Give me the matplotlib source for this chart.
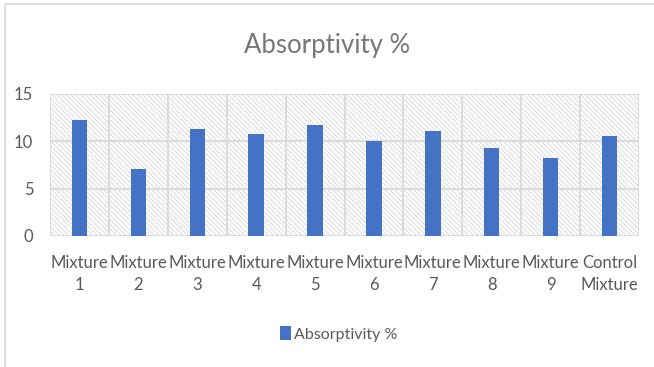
import matplotlib.pyplot as plt
from matplotlib.patches import Rectangle
import numpy as np

categories = ['Mixture\n1', 'Mixture\n2', 'Mixture\n3', 'Mixture\n4', 'Mixture\n5',
              'Mixture\n6', 'Mixture\n7', 'Mixture\n8', 'Mixture\n9', 'Control\nMixture']
absorptivity = [12.25, 7.05, 11.33, 10.77, 11.69, 10.07, 11.12, 9.33, 8.24, 10.56]
yticks = [0, 5, 10, 15]

plt.rcParams['font.family'] = ['Lato', 'DejaVu Sans']
plt.rcParams['hatch.linewidth'] = 0.6

fig = plt.figure(figsize=(6.54, 3.67), dpi=100, facecolor='white')
# outer chart frame
fig.patches.append(Rectangle((5 / 654, -0.1), 1.2, 1.1 - 4 / 367, transform=fig.transFigure,
                             facecolor='none', edgecolor='#d9d9d9', lw=1.2, zorder=0))

ax = fig.add_axes([50 / 654, 1 - 236 / 367, 589 / 654, 142 / 367])
ax.set_facecolor('none')

x = np.arange(len(categories))
ax.set_xlim(-0.5, len(categories) - 0.5)
ax.set_ylim(0, 15)

# hatched plot area
ax.add_patch(Rectangle((0, 0), 1, 1, transform=ax.transAxes, facecolor='white',
                       edgecolor='#d3d3d3', hatch='\\' * 7, lw=0, zorder=0))

for yv in yticks:
    ax.axhline(yv, color='#d9d9d9', lw=1.3, zorder=1)
for xv in np.arange(-0.5, len(categories), 1.0):
    ax.axvline(xv, color='#d9d9d9', lw=1.3, zorder=1)

ax.bar(x, absorptivity, width=0.26, color='#4472c4', zorder=3, label='Absorptivity %')

for s in ax.spines.values():
    s.set_visible(False)

ax.set_yticks(yticks)
ax.set_xticks(x)
ax.set_xticklabels(categories, linespacing=1.45)
ax.tick_params(axis='both', length=0, labelsize=12, labelcolor='#595959')
ax.tick_params(axis='y', pad=12)
ax.tick_params(axis='x', pad=14)

fig.text(0.5, 1 - 45 / 367, 'Absorptivity %', ha='center', va='center',
         fontsize=18.5, color='#777777')

fig.legend(loc='center', bbox_to_anchor=(0.518, 1 - 334 / 367), frameon=False,
           fontsize=11.5, labelcolor='#595959', handlelength=0.65, handleheight=0.9,
           handletextpad=0.2)

fig.savefig('out.png', dpi=100)
